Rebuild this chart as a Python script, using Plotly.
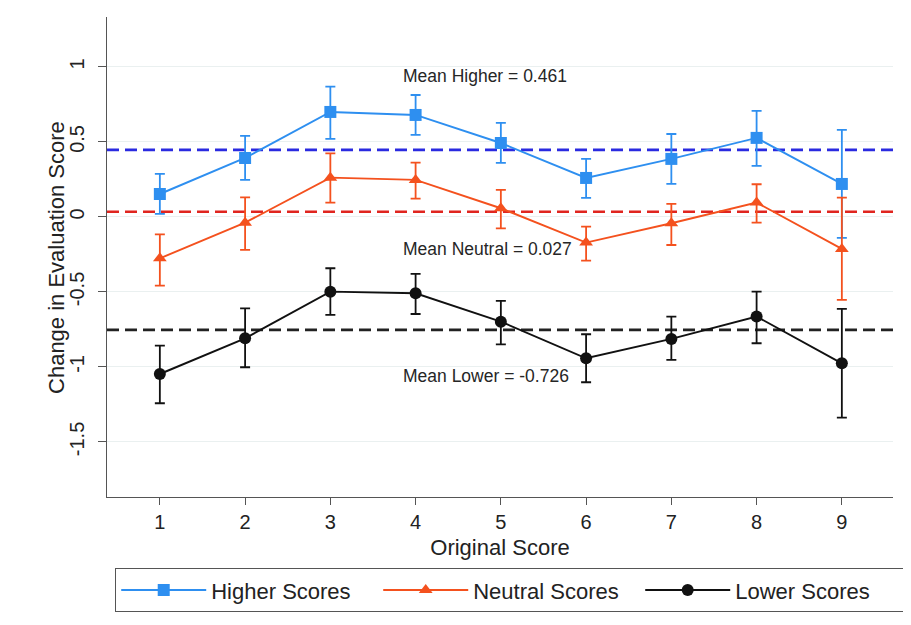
import plotly.graph_objects as go
import numpy as np

scores = [1, 2, 3, 4, 5, 6, 7, 8, 9]

higher = [0.153, 0.393, 0.700, 0.680, 0.493, 0.260, 0.387, 0.527, 0.220]
higher_lo = [0.020, 0.247, 0.520, 0.547, 0.360, 0.127, 0.220, 0.340, -0.140]
higher_hi = [0.287, 0.540, 0.869, 0.813, 0.627, 0.387, 0.553, 0.707, 0.580]

neutral = [-0.276, -0.038, 0.262, 0.247, 0.058, -0.171, -0.042, 0.096, -0.213]
neutral_lo = [-0.458, -0.220, 0.096, 0.122, -0.076, -0.291, -0.187, -0.038, -0.553]
neutral_hi = [-0.116, 0.131, 0.424, 0.362, 0.180, -0.064, 0.087, 0.218, 0.129]

lower = [-1.047, -0.809, -0.498, -0.509, -0.698, -0.942, -0.813, -0.664, -0.976]
lower_lo = [-1.242, -1.002, -0.653, -0.647, -0.849, -1.102, -0.953, -0.842, -1.338]
lower_hi = [-0.858, -0.609, -0.342, -0.380, -0.560, -0.782, -0.664, -0.498, -0.613]

series_names = ["Higher Scores", "Neutral Scores", "Lower Scores"]
mean_lines = [0.447, 0.035, -0.753]
mean_labels = ["Mean Higher = 0.461", "Mean Neutral = 0.027", "Mean Lower = -0.726"]
label_y = [0.94, -0.213, -1.06]

y_ticks = [1, 0.5, 0, -0.5, -1, -1.5]
y_ticklabels = ["1", "0.5", "0", "-0.5", "-1", "-1.5"]

x_title = "Original Score"
y_title = "Change in Evaluation Score"

colors = ["#2e8ff0", "#f4511e", "#111111"]
mean_colors = ["#2a2ae0", "#e0251f", "#222222"]
symbols = ["square", "triangle-up", "circle"]

fig = go.Figure()

data = [(higher, higher_lo, higher_hi), (neutral, neutral_lo, neutral_hi), (lower, lower_lo, lower_hi)]

for name, (vals, lo, hi), c, s in zip(series_names, data, colors, symbols):
    v = np.array(vals)
    fig.add_trace(go.Scatter(
        x=scores, y=vals, name=name, mode="lines+markers",
        line=dict(color=c, width=1.9),
        marker=dict(symbol=s, size=12, color=c),
        error_y=dict(type="data", symmetric=False,
                     array=list(np.array(hi) - v), arrayminus=list(v - np.array(lo)),
                     color=c, thickness=1.8, width=5),
    ))

for m, mc in zip(mean_lines, mean_colors):
    fig.add_hline(y=m, line=dict(color=mc, width=2.6, dash="12px,6px"), layer="below")

for txt, ly in zip(mean_labels, label_y):
    fig.add_annotation(x=3.83, y=ly, text=txt, showarrow=False, xanchor="left",
                       yanchor="middle", font=dict(size=17.5, color="#262626"))

# y-axis title placed as rotated text
fig.add_annotation(xref="paper", yref="paper", x=-0.0636, y=0.498, text=y_title,
                   textangle=-90, showarrow=False, xanchor="center", yanchor="middle",
                   font=dict(size=22, color="#222222"))

font_family = "Liberation Sans, Arial, sans-serif"

fig.update_layout(
    width=911, height=625,
    margin=dict(l=99, r=26, t=9, b=136, autoexpand=False),
    paper_bgcolor="white", plot_bgcolor="white",
    font=dict(family=font_family, color="#222222"),
    showlegend=True,
    legend=dict(orientation="h", x=0.0102, y=-0.148, xanchor="left", yanchor="top",
                bordercolor="#555555", borderwidth=1.2,
                font=dict(size=22, color="#222222"),
                itemwidth=85, entrywidth=162, entrywidthmode="pixels",
                traceorder="normal"),
)

fig.update_xaxes(
    range=[0.38, 9.6], tickvals=scores, ticktext=[str(s) for s in scores],
    showgrid=False, zeroline=False, showline=True, linecolor="#555555", linewidth=1.2,
    ticks="outside", ticklen=7, tickcolor="#555555", automargin=False,
    tickfont=dict(size=20), title=dict(text=x_title, font=dict(size=22), standoff=7),
)
fig.update_yaxes(
    range=[-1.867, 1.333], tickvals=y_ticks, ticktext=y_ticklabels, tickangle=-90,
    showgrid=True, gridcolor="#eaf0f0", gridwidth=1, zeroline=False,
    showline=True, linecolor="#555555", linewidth=1.2, automargin=False,
    ticks="outside", ticklen=8, tickcolor="#555555", ticklabelstandoff=6,
    tickfont=dict(size=20),
)

fig.write_html("out.html")
